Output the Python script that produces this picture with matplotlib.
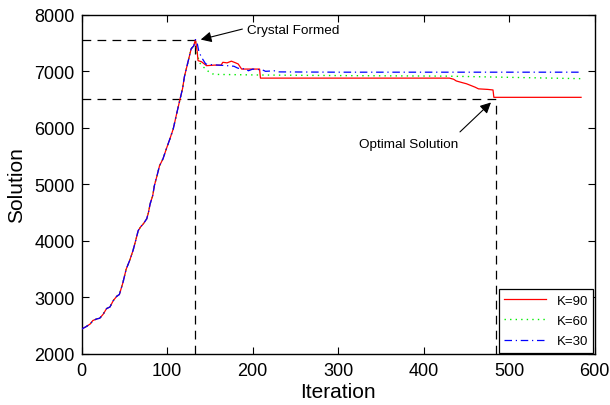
import matplotlib
matplotlib.use("Agg")
import matplotlib.pyplot as plt

plt.rcParams['font.family'] = ['Liberation Sans', 'DejaVu Sans']

# ---- data ----
rise_x = [0, 5, 10, 13, 18, 21, 25, 29, 33, 37, 41, 44, 48, 52, 56, 60, 63, 66, 69, 72,
          76, 78, 80, 83, 85, 88, 91, 95, 99, 103, 107, 111, 115, 118, 120, 124, 128, 131, 133]
rise_y = [2440, 2480, 2530, 2590, 2620, 2630, 2700, 2800, 2830, 2945, 3020, 3050, 3250, 3500,
          3650, 3830, 4000, 4180, 4250, 4300, 4390, 4500, 4655, 4800, 4980, 5150, 5330, 5450,
          5630, 5800, 5980, 6250, 6510, 6700, 6900, 7150, 7400, 7450, 7560]

k90_x = [135, 136, 140, 146, 155, 163, 165, 170, 175, 180, 183, 187, 208, 209, 430, 435,
         438, 445, 450, 455, 460, 464, 475, 481, 482, 584]
k90_y = [7350, 7190, 7170, 7100, 7110, 7110, 7160, 7150, 7180, 7150, 7130, 7040, 7040, 6880,
         6880, 6860, 6830, 6800, 6780, 6750, 6720, 6690, 6680, 6670, 6540, 6540]

k60_x = [135, 138, 142, 148, 153, 160, 208, 300, 426, 584]
k60_y = [7300, 7150, 7080, 7000, 6955, 6945, 6935, 6925, 6915, 6870]

k30_x = [135, 137, 140, 145, 150, 160, 170, 178, 182, 186, 190, 195, 200, 206, 210, 215,
         225, 231, 300, 584]
k30_y = [7500, 7350, 7250, 7130, 7120, 7110, 7100, 7090, 7060, 7040, 7050, 7010, 7040, 7030,
         7035, 7000, 7010, 6990, 6985, 6985]

crystal_x, crystal_y = 133, 7560
optimal_x, optimal_y = 484, 6510

x_ticks = [0, 100, 200, 300, 400, 500, 600]
y_ticks = [2000, 3000, 4000, 5000, 6000, 7000, 8000]

# ---- figure ----
fig = plt.figure(figsize=(6.10, 4.06), dpi=100)
ax = fig.add_axes([0.134, 0.126, 0.841, 0.835])

dash_kw = dict(color='k', lw=0.9, linestyle=(0, (7, 5)), zorder=1)
ax.plot([0, crystal_x], [crystal_y, crystal_y], **dash_kw)
ax.plot([crystal_x, crystal_x], [2000, crystal_y], **dash_kw)
ax.plot([0, optimal_x], [optimal_y, optimal_y], **dash_kw)
ax.plot([optimal_x, optimal_x], [2000, optimal_y], **dash_kw)

ax.plot(rise_x + k90_x, rise_y + k90_y, color='#ff0000', lw=0.9, label='K=90', zorder=3)
ax.plot(rise_x + k60_x, rise_y + k60_y, color='#00ee00', lw=1.0, linestyle=(0, (1, 3)),
        label='K=60', zorder=2)
ax.plot(rise_x + k30_x, rise_y + k30_y, color='#0000ff', lw=0.9, linestyle=(0, (6, 3, 1, 3)),
        label='K=30', zorder=4)

# annotations
ax.annotate('', xy=(136, 7550), xytext=(191, 7760),
            arrowprops=dict(arrowstyle='-|>', color='k', lw=0.8, mutation_scale=16))
ax.text(193, 7740, 'Crystal Formed', fontsize=9.7, ha='left', va='center')
ax.annotate('', xy=(481, 6483), xytext=(440, 5894),
            arrowprops=dict(arrowstyle='-|>', color='k', lw=0.8, mutation_scale=16))
ax.text(382, 5717, 'Optimal Solution', fontsize=9.7, ha='center', va='center')

ax.set_xlim(0, 600)
ax.set_ylim(2000, 8000)
ax.set_xticks(x_ticks)
ax.set_yticks(y_ticks)
ax.tick_params(direction='in', top=True, right=True, labelsize=13, length=5, width=0.8)
ax.tick_params(axis='x', pad=6)
ax.tick_params(axis='y', pad=5)
for s in ax.spines.values():
    s.set_linewidth(1.0)

ax.set_xlabel('Iteration', fontsize=15, labelpad=2)
ax.set_ylabel('Solution', fontsize=15, labelpad=6)

leg = ax.legend(loc='lower right', fontsize=9.5, fancybox=False, edgecolor='k',
                framealpha=1, handlelength=3.2, borderaxespad=0.1, labelspacing=0.6)
leg.get_frame().set_linewidth(0.9)

fig.savefig('out.png', dpi=100)
